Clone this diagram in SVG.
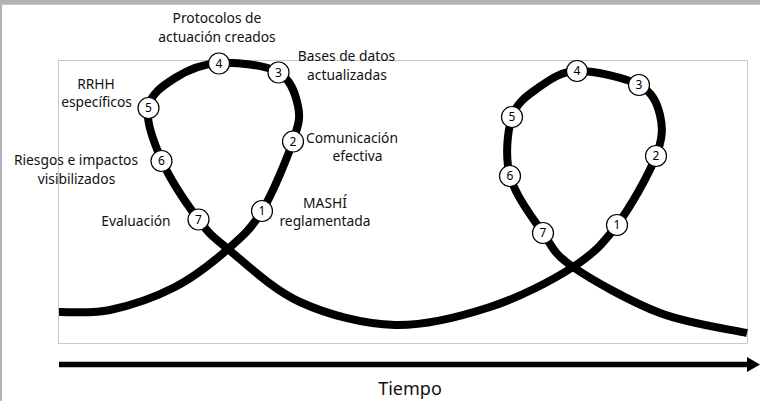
<svg xmlns="http://www.w3.org/2000/svg" width="760" height="401" viewBox="0 0 760 401">
<style>
.lbl{font-family:"Noto Sans","Open Sans",sans-serif;font-size:13.8px;fill:#111;text-anchor:middle}
.num{font-family:"Noto Sans","Open Sans",sans-serif;font-size:12px;fill:#000;text-anchor:middle}
.c{fill:#fff;stroke:#000;stroke-width:1.2}
.curve{fill:none;stroke:#000;stroke-width:8;stroke-linejoin:round}
</style>
<defs>
<circle id="dot" r="10.5" class="c"/>
</defs>
<rect x="0" y="0" width="760" height="401" fill="#fff"/>
<rect x="0" y="0" width="760" height="4.7" fill="#b3b3b3"/>
<rect x="0" y="0" width="2" height="401" fill="#b3b3b3"/>
<rect x="58.5" y="60.5" width="689" height="283" fill="none" stroke="#c8c8c8" stroke-width="1"/>

<g id="connectors">
<path class="curve" d="M59,312 C67.5,311.67 90.67,314.17 110,310 C129.33,305.83 155.33,297.17 175,287 C194.67,276.83 213.5,261.67 228,249 C242.5,236.33 251.17,229 262,211 C272.83,193 287,158.5 293,141 C299,123.5 300.5,117.5 298,106 C295.5,94.5 291.17,79.17 278,72 C264.83,64.83 236.17,62 219,63 C201.83,64 186.83,70.5 175,78 C163.17,85.5 150.17,94.17 148,108 C145.83,121.83 153.67,142.5 162,161 C170.33,179.5 187,204.33 198,219 C209,233.67 211,235.17 228,249 C245,262.83 272.17,289.33 300,302 C327.83,314.67 363.33,324.17 395,325 C426.67,325.83 460.33,316.67 490,307 C519.67,297.33 551.83,280.67 573,267 C594.17,253.33 603.17,243.5 617,225 C630.83,206.5 648.83,174.33 656,156 C663.17,137.67 662.83,126.83 660,115 C657.17,103.17 652.83,92.33 639,85 C625.17,77.67 593.83,70.5 577,71 C560.17,71.5 548.83,80.33 538,88 C527.17,95.67 516.67,102.33 512,117 C507.33,131.67 504.83,156.67 510,176 C515.17,195.33 532.5,217.83 543,233 C553.5,248.17 553.5,253.67 573,267 C592.5,280.33 631,302 660,313 C689,324 732.5,329.67 747,333"/>
<line x1="59" y1="364.5" x2="749" y2="364.5" stroke="#000" stroke-width="5.5"/>
<polygon points="747,357 760,364.5 747,372" fill="#000"/>
</g>

<g id="loop1-n1"><use href="#dot" x="262" y="211"/><text class="num" x="262" y="215.3">1</text></g>
<g id="loop1-n2"><use href="#dot" x="293" y="141.5"/><text class="num" x="293" y="145.8">2</text></g>
<g id="loop1-n3"><use href="#dot" x="278.5" y="72.5"/><text class="num" x="278.5" y="76.8">3</text></g>
<g id="loop1-n4"><use href="#dot" x="219" y="63.5"/><text class="num" x="219" y="67.8">4</text></g>
<g id="loop1-n5"><use href="#dot" x="148.5" y="108"/><text class="num" x="148.5" y="112.3">5</text></g>
<g id="loop1-n6"><use href="#dot" x="161.5" y="161"/><text class="num" x="161.5" y="165.3">6</text></g>
<g id="loop1-n7"><use href="#dot" x="198.5" y="219.5"/><text class="num" x="198.5" y="223.8">7</text></g>

<g id="loop2-n1"><use href="#dot" x="617" y="225"/><text class="num" x="617" y="229.3">1</text></g>
<g id="loop2-n2"><use href="#dot" x="656" y="156"/><text class="num" x="656" y="160.3">2</text></g>
<g id="loop2-n3"><use href="#dot" x="639" y="85"/><text class="num" x="639" y="89.3">3</text></g>
<g id="loop2-n4"><use href="#dot" x="577" y="71"/><text class="num" x="577" y="75.3">4</text></g>
<g id="loop2-n5"><use href="#dot" x="512" y="117"/><text class="num" x="512" y="121.3">5</text></g>
<g id="loop2-n6"><use href="#dot" x="510" y="176"/><text class="num" x="510" y="180.3">6</text></g>
<g id="loop2-n7"><use href="#dot" x="543" y="233"/><text class="num" x="543" y="237.3">7</text></g>

<g id="labels">
<text class="lbl" x="217" y="22.5">Protocolos de</text>
<text class="lbl" x="217" y="41.5">actuación creados</text>
<text class="lbl" x="346.5" y="61">Bases de datos</text>
<text class="lbl" x="347" y="79.5">actualizadas</text>
<text class="lbl" x="96" y="89">RRHH</text>
<text class="lbl" x="96.5" y="106.5">específicos</text>
<text class="lbl" x="352" y="143">Comunicación</text>
<text class="lbl" x="357.5" y="161">efectiva</text>
<text class="lbl" x="76" y="164.5">Riesgos e impactos</text>
<text class="lbl" x="76.5" y="183.5">visibilizados</text>
<text class="lbl" x="136" y="225.5">Evaluación</text>
<text class="lbl" x="325" y="207.5">MASHÍ</text>
<text class="lbl" x="325" y="226">reglamentada</text>
<text class="lbl" x="410" y="395" style="font-size:18px">Tiempo</text>
</g>
</svg>
